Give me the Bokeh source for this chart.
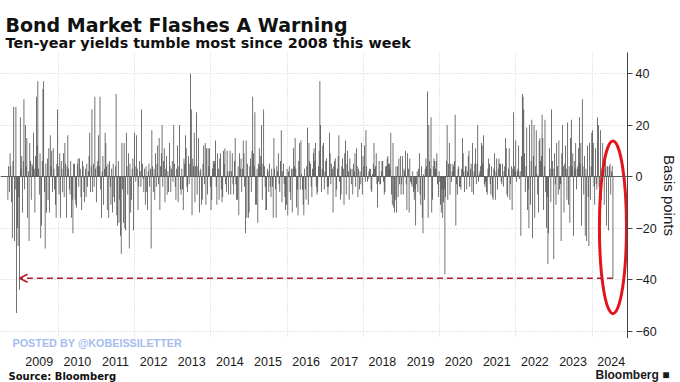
import numpy as np
import pandas as pd
from bokeh.plotting import figure
from bokeh.layouts import column
from bokeh.models import (Range1d, FixedTicker, Label, Arrow, OpenHead, Span, Grid,
                          CustomJSTickFormatter)
from bokeh.core.properties import value
from bokeh.embed import file_html
from bokeh.resources import INLINE

# Weekly change in the US 10-year Treasury yield (basis points)
weekly_change_bp = [
    -9, 4, -6,
    9, 4, -10, -24, 6, 27, -25, -5, 27, -53,
    -20, -27, -8, -44, 23, 3, 8, -14, 6, 30,
    -5, 20, 4, 15, -16, 2, -25, 13, 6, -9,
    5, 4, 17, 3, -14, 8, 31, 12, 37, 3,
    -7, 9, -24, -19, 6, 34, 37, -6, -28, 5,
    -14, 7, -9, 11, -14, 16, 4, 10, -6, 11,
    3, -5, -11, -16, 5, 26, 4, -7, 9, -16,
    6, 3, -6, 9, -8, 13, 5, -16, 4, 16,
    3, -5, -7, 6, -16, -9, -22, 5, 5, -9,
    -11, -12, 5, 7, -4, 7, 3, -8, -13, 6,
    4, -6, -10, 3, -8, 5, -4, 2, 8, 17,
    -6, 4,
    26, -6, 5, -4, 31, 3, -10, 4, 6, 16,
    4, 31, -5, -16, 2, 8, -11, 3, 17, 13,
    4, -13, 5, -16, 6, -4, -11, 3, -14, 5,
    -8, -10, 4, 32, -15, -19, 6, -18, -9, -23,
    -30, 13, -5, -18, 13, -20, -21, 17, 4, -7,
    9, -28, 5, -14, -9, 3, 7, -21, 17, 4,
    -2, 16, 3, -13, -4, 6, 2, -4, 26, 5,
    -1, -6, 3, -11, 4, -6, -13, 2, 5, -4,
    3, -28, 18, 4, -6, 3, -9, 9, -4, 5,
    12, -3, 15, -13, 4, 9, 20, -4, 6, 11,
    -10, 3, 8, -7, 2, -6, 13, 4, -6, 3,
    6, -2, 20, 5, -4, -9, 3, 12, -10, 4,
    20, -5,
    -7, 3, -5, -13, 7, 5, 16, 11, -4, -6,
    8, -3, 5, 40, 26, -15, 7, 4, 17, -10,
    4, 25, -7, 4, 15, -14, 2, 3, -11, -9,
    5, 12, -3, 13, -11, 11, -7, 11, 4, 11,
    -4, -13, -9, 3, 6, 5, 6, 14, -4, -11,
    9, 3, -9, 7, 9, -5, -10, -8, 10, 5,
    11, -3, -6, 10, 2, -7, 2, 10, -7, 2,
    9, -3, -7, 6, 15, -3, -9, -9, 4, -15,
    9, 3, 7, -6, 3, 14, 9, -4, -22, 14,
    -16, 5, -16, -14, 4, 7, -6, 10, 31, 9,
    4, 25, -11, -11, 3, -18, 5, 11, 4, 8,
    20, -9, 5, 26, 4, -4, -13, -13, 3, 2,
    -6, 5, -4,
    -8, 3, -4, -16, 15, 3, -5, -16, 4, 2,
    9, -3, -6, 6, 18, -10, 2, 5, -3, -8,
    -13, -11, 3, -15, 2, 4, -6, -9, 3, -14,
    3, 11, 4, 15, 3, -12, -5, -15, 6, 13,
    -5, 14, 1, -5, -11, -15, 3, -5, -9, 4,
    19, -11, 13, 6, 5, -4, -8, 3, 9, 11,
    6, 13, -4, -7, -6, 4, 10, 37,
    20, -6, 3, 12, 13, -5, 2, 6, 7, -4,
    -7, -4, 17, 9, -3, 5, 3, -14, 4, 6,
    7, -8, -5, 3, 8, 16, -2, -9, -7, 4,
    7, 3, -11, 9, 14, -7, 5, 10, 2, -9,
    7, 3, -3, 3, -7, 5, 2, 9, -4, 11,
    4, -8, 3, -5,
    2, -3, 13, -7, 8, 4, 12, -2, 18, 4,
    -2, -1, 2, 3, 3, -5, -6, 1, 5, 13,
    3, 4, 9, -3, -12, -2, 6, -3, -3, 2,
    6, 6, -2, -7, -6, 4, 4, 7, 8, 5,
    5, 3, 17, -7, -11, 13, -12, -14, -9, 4,
    -14, 4, -8, 7, -3, 8, -7, -3, 8, -7,
    3, 2, 10, -3, -13, 9, 3, -14, 7, -2,
    -3, -4, 2, -6, -9, -5, -19, -3, 2, -6,
    3, 9, -7, -11, 4, -16, -22, 1, -9, 3,
    7, 4, 33, -16, 20, 6, 3, 23, -14, -9,
    4, 7, 6, 3, 6, 9, -3, -8, 2, -2,
    -11, -14, -5, -16, -10, -5, -38, -8, 6, 20,
    -9, 5,
    13, -7, 5, -2, 2, 5, 4, 6, 24, -19,
    -3, -7, 3, 4, -4, -4, -5, 3, 15, 9,
    2, -6, 4, 4, -5, 2, 8, 10, -4, 3,
    5, -6, 13, -7, 2, 5, 11, -3, 5, 20,
    -2, 1, 2, 4, 13, 12, 5, 16, -3, -4,
    -2, -6, -7, 3, 7, 5, -3, -7, 4, -8,
    -9, 3, 9, -9, 2, 7, -5, 3, 7, 5,
    5, -2, -3, 5, -4, 2, 4, 15, 11, -7,
    -8, 3, 11, -9, -3, 4, -13, 3, 25, 4,
    2, 14, -2, 2, 3, 12, -1, 2, -23, 8,
    32, 31, 26, 9, -6, 4, 19, -13, -5, -20,
    20, -11, 6, 22, -24, 8, 20, -16, 4, 18,
    1, -7, -14,
    14, 15, 6, 8, 24, 15, -13, 4, 22, -6,
    -20, -8, -34, -22, 11, 3, -10, 26, 6, 3,
    -32, 9, -3, -11, 13, 4, -7, 14, -5, -3,
    -25, 9, 20, 4, -14, 5, 12, 3, -9, 21,
    -11, 4, -18, 15, 22, 4, 9, -23, 6, 3,
    13, -5, 3, 4, 11, 23, 5, 13, -19, 30,
    4, -7, 8, -23, 3, -25, 12, -8, -27, 13,
    -9, 4, 17, 18, 13, -4, -11, 11, -3, -5,
    23, 20, -4, -8, 18, -9, 3, 13, 4, -11,
    3, 6, -19, 4, 4, -21, 4, 5, -7, 2,
    4, -39.5,
]
last_week = "2024-07-19"
year_labels = list(range(2009, 2025))
grid_years = list(range(2010, 2025, 2))
y_ticks = [-60, -40, -20, 0, 20, 40]

dates = pd.date_range(end=last_week, periods=len(weekly_change_bp), freq="7D")
days_in_year = np.where(dates.is_leap_year, 366.0, 365.0)
x_years = np.asarray(dates.year + (dates.dayofyear - 1) / days_in_year, dtype=float)
vals = np.asarray(weekly_change_bp, dtype=float)

W = 680
HEAD_H, MAIN_H, FOOT_H = 52, 286, 44
RIGHT_BORDER = 51
X0, X1 = 2008.4837, 2024.9281          # visible time span of the plot frame
Y0, Y1 = -62.91, 48.16

FONT_TXT = "Liberation Sans"
FONT_HEAD = "DejaVu Sans"


def bare(fig):
    fig.outline_line_color = None
    fig.xgrid.visible = False
    fig.ygrid.visible = False
    fig.title.visible = False
    return fig


# ---------- header (title + subtitle) ----------
head = figure(width=W, height=HEAD_H, output_backend="svg", toolbar_location=None,
              x_range=Range1d(0, W - RIGHT_BORDER), y_range=Range1d(0, HEAD_H),
              x_axis_location=None, y_axis_location=None,
              min_border_left=0, min_border_right=RIGHT_BORDER, min_border_top=0, min_border_bottom=0)
bare(head)
head.add_layout(Label(x=5, y=HEAD_H - 24.5, text="Bond Market Flashes A Warning",
                      text_font=FONT_HEAD, text_font_style="bold", text_font_size="19px",
                      text_color="#111111", text_baseline="alphabetic"))
head.add_layout(Label(x=5, y=HEAD_H - 42.3, text="Ten-year yields tumble most since 2008 this week",
                      text_font=FONT_HEAD, text_font_style="bold", text_font_size="14.4px",
                      text_color="#111111", text_baseline="alphabetic"))

# ---------- main chart ----------
p = figure(width=W, height=MAIN_H, output_backend="svg", toolbar_location=None,
           x_range=Range1d(X0, X1), y_range=Range1d(Y0, Y1),
           x_axis_location=None, y_axis_location="right",
           min_border_left=0, min_border_right=RIGHT_BORDER, min_border_top=0, min_border_bottom=0)
bare(p)
p.add_layout(Grid(dimension=0, ticker=FixedTicker(ticks=grid_years),
                  grid_line_color="#cfcfcf", grid_line_dash="1 2"))
p.add_layout(Grid(dimension=1, ticker=FixedTicker(ticks=y_ticks),
                  grid_line_color="#cfcfcf", grid_line_dash="1 2"))

p.yaxis.ticker = FixedTicker(ticks=y_ticks)
p.yaxis.axis_line_color = "#444444"
p.yaxis.major_tick_line_color = "#444444"
p.yaxis.major_tick_out = 5
p.yaxis.major_tick_in = 0
p.yaxis.minor_tick_line_color = None
p.yaxis.major_label_text_font = FONT_TXT
p.yaxis.major_label_text_font_size = "12.5px"
p.yaxis.major_label_text_color = "#1a1a1a"
p.yaxis.major_label_standoff = 3
p.yaxis.axis_label = "Basis points"
p.yaxis.axis_label_text_font = FONT_TXT
p.yaxis.axis_label_text_font_size = "15px"
p.yaxis.axis_label_text_font_style = "normal"
p.yaxis.axis_label_text_color = "#1a1a1a"
p.yaxis.axis_label_standoff = 1

week_w = 7 / 365.25
p.vbar(x=x_years, top=vals, bottom=0, width=week_w,
       fill_color="#3f3f3f", line_color=None)
p.add_layout(Span(location=0, dimension="width", line_color="#5e5e5e", line_width=1))

last_val = vals[-1]
in_2008 = np.where((dates.year == 2008) & (vals <= last_val))[0]
target = in_2008[-1]
p.add_layout(Arrow(x_start=x_years[-1], y_start=last_val, x_end=x_years[target], y_end=last_val,
                   line_color="#b01e2e", line_width=1.6, line_dash="6 4",
                   end=OpenHead(size=8, line_color="#b01e2e", line_width=1.6)))

p.ellipse(x=[x_years[-1]], y=[last_val / 2], width=[0.71], height=[abs(last_val) * 1.7],
          fill_color=None, line_color="#e3141c", line_width=3)

# ---------- footer (watermark, year labels, source, logo) ----------
foot = figure(width=W, height=FOOT_H, output_backend="svg", toolbar_location=None,
              x_range=p.x_range, y_range=Range1d(0, FOOT_H),
              x_axis_location=None, y_axis_location="right",
              min_border_left=0, min_border_right=RIGHT_BORDER, min_border_top=0, min_border_bottom=0)
bare(foot)
foot.text(x=[yr + 0.5 for yr in year_labels], y=[FOOT_H - 23] * len(year_labels),
          text=[str(yr) for yr in year_labels], text_font=value(FONT_TXT),
          text_font_size="12.5px", text_color="#1a1a1a",
          text_align="center", text_baseline="middle")
foot.add_layout(Label(x=12, y=FOOT_H - 4, x_units="screen", y_units="screen",
                      text="POSTED BY @KOBEISSILETTER", text_font=FONT_TXT,
                      text_font_style="bold", text_font_size="10.8px", text_color="#a6bcef",
                      text_baseline="middle"))
foot.add_layout(Label(x=8, y=6, x_units="screen", y_units="screen",
                      text="Source: Bloomberg", text_font=FONT_HEAD,
                      text_font_style="bold", text_font_size="10px", text_color="#111111",
                      text_baseline="middle"))
# Bloomberg wordmark sits in the right margin: drawn as the footer's right-axis label
foot.yaxis.ticker = FixedTicker(ticks=[6])
foot.yaxis.formatter = CustomJSTickFormatter(args=dict(txt="Bloomberg \u25A0"), code="return txt;")
foot.yaxis.axis_line_color = None
foot.yaxis.major_tick_line_color = None
foot.yaxis.minor_tick_line_color = None
foot.yaxis.major_tick_out = 0
foot.yaxis.major_tick_in = 0
foot.yaxis.major_label_standoff = -32
foot.yaxis.major_label_text_font = FONT_TXT
foot.yaxis.major_label_text_font_style = "bold"
foot.yaxis.major_label_text_font_size = "12px"
foot.yaxis.major_label_text_color = "#1a1a1a"

layout = column(head, p, foot, spacing=0)
open("out.html", "w").write(file_html(layout, INLINE))
